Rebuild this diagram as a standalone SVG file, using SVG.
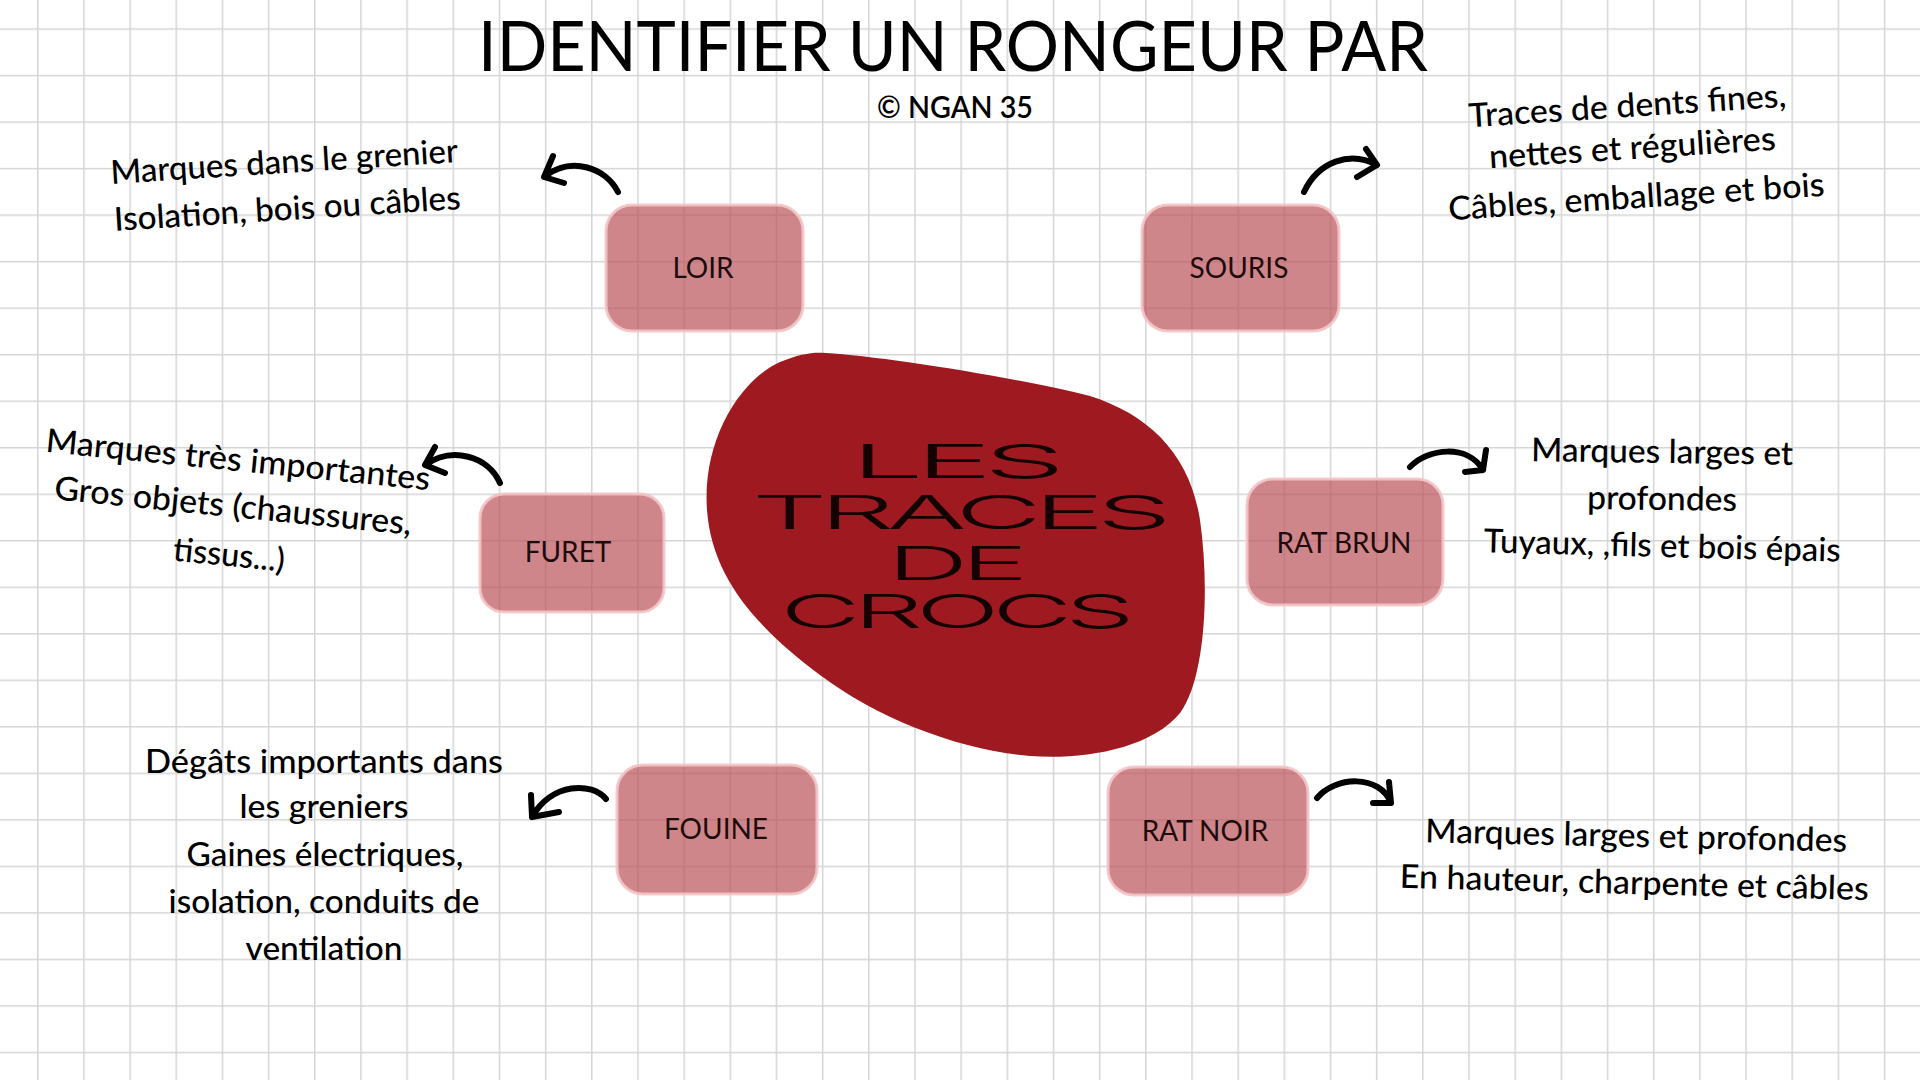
<svg xmlns="http://www.w3.org/2000/svg" width="1920" height="1080" viewBox="0 0 1920 1080">
  <defs>
    <pattern id="grid" x="37" y="28.3" width="46.17" height="46.52" patternUnits="userSpaceOnUse">
      <path d="M0 0.75 H46.17 M0.75 0 V46.52" stroke="#d5d5d5" stroke-width="1.5" fill="none"/>
    </pattern>
    <style>
      .box { fill: #ba5259; fill-opacity: 0.7; stroke: #f3c4c7; stroke-width: 3; stroke-opacity: 0.9; }
      .lbl { font-family: Lato, "Open Sans", sans-serif; font-size: 28px; fill: #1e0c0c; text-anchor: middle; }
      .hand { font-family: Lato, "Noto Sans", sans-serif; font-size: 33px; font-weight: 500; fill: #000; text-anchor: middle; }
      .title { font-family: Lato, "Open Sans", sans-serif; font-size: 70px; fill: #000; text-anchor: middle; }
      .sub { font-family: Lato, "Open Sans", sans-serif; font-size: 30px; font-weight: 600; fill: #000; text-anchor: middle; }
      .core { font-family: Inter, "DejaVu Sans", sans-serif; font-size: 46px; font-weight: 300; letter-spacing: -3px; fill: #140202; text-anchor: middle; }
      .arr { fill: none; stroke: #000; stroke-width: 6; stroke-linecap: round; stroke-linejoin: round; }
    </style>
  </defs>

  <rect width="1920" height="1080" fill="#ffffff"/>
  <rect width="1920" height="1080" fill="url(#grid)"/>

  <g id="title">
    <text class="title" x="953" y="71" textLength="950" lengthAdjust="spacingAndGlyphs">IDENTIFIER UN RONGEUR PAR</text>
    <text class="sub" x="955" y="118" textLength="156" lengthAdjust="spacingAndGlyphs">© NGAN 35</text>
  </g>

  <g id="center">
    <path d="M826 353 C880 356 1020 378 1090 396 C1150 415 1190 455 1200 520 C1210 590 1205 680 1180 713 C1150 750 1080 760 1030 756 C960 750 880 720 820 675 C760 630 712 580 707 510 C702 440 740 380 780 362 C800 354 812 352 826 353 Z" fill="#9e1a20"/>
    <text class="core" x="954" y="478" textLength="206" lengthAdjust="spacingAndGlyphs">LES</text>
    <text class="core" x="958" y="529" textLength="412" lengthAdjust="spacingAndGlyphs">TRACES</text>
    <text class="core" x="954" y="580" textLength="134" lengthAdjust="spacingAndGlyphs">DE</text>
    <text class="core" x="954" y="628" textLength="347" lengthAdjust="spacingAndGlyphs">CROCS</text>
  </g>

  <g id="node-loir">
    <rect class="box" x="606" y="205" width="197" height="126" rx="26"/>
    <text class="lbl" x="703" y="278">LOIR</text>
  </g>
  <g id="node-souris">
    <rect class="box" x="1142" y="205" width="197" height="126" rx="26"/>
    <text class="lbl" x="1239" y="278">SOURIS</text>
  </g>
  <g id="node-furet">
    <rect class="box" x="480" y="494" width="184" height="118" rx="24"/>
    <text class="lbl" x="568" y="562">FURET</text>
  </g>
  <g id="node-ratbrun">
    <rect class="box" x="1247" y="479" width="196" height="126" rx="26"/>
    <text class="lbl" x="1344" y="553">RAT BRUN</text>
  </g>
  <g id="node-fouine">
    <rect class="box" x="617" y="765" width="200" height="129" rx="26"/>
    <text class="lbl" x="716" y="839">FOUINE</text>
  </g>
  <g id="node-ratnoir">
    <rect class="box" x="1108" y="767" width="200" height="128" rx="26"/>
    <text class="lbl" x="1205" y="841">RAT NOIR</text>
  </g>

  <g id="note-loir">
    <text class="hand" x="285" y="173" transform="rotate(-3.6 285 173)" textLength="348" lengthAdjust="spacingAndGlyphs">Marques dans le grenier</text>
    <text class="hand" x="288" y="220" transform="rotate(-3.6 288 220)" textLength="347" lengthAdjust="spacingAndGlyphs">Isolation, bois ou câbles</text>
  </g>
  <g id="note-souris">
    <text class="hand" x="1628" y="117" transform="rotate(-3.7 1628 117)" textLength="318" lengthAdjust="spacingAndGlyphs">Traces de dents fines,</text>
    <text class="hand" x="1633" y="159" transform="rotate(-3.7 1633 159)" textLength="287" lengthAdjust="spacingAndGlyphs">nettes et régulières</text>
    <text class="hand" x="1637" y="208" transform="rotate(-3.7 1637 208)" textLength="377" lengthAdjust="spacingAndGlyphs">Câbles, emballage et bois</text>
  </g>
  <g id="note-furet">
    <text class="hand" x="237" y="471" transform="rotate(5.7 237 471)" textLength="386" lengthAdjust="spacingAndGlyphs">Marques très importantes</text>
    <text class="hand" x="232" y="517" transform="rotate(5.7 232 517)" textLength="359" lengthAdjust="spacingAndGlyphs">Gros objets (chaussures,</text>
    <text class="hand" x="228" y="566" transform="rotate(5.7 228 566)" textLength="112" lengthAdjust="spacingAndGlyphs">tissus...)</text>
  </g>
  <g id="note-ratbrun">
    <text class="hand" x="1662" y="463" transform="rotate(0.8 1662 463)" textLength="262" lengthAdjust="spacingAndGlyphs">Marques larges et</text>
    <text class="hand" x="1662" y="510" transform="rotate(0.8 1662 510)" textLength="150" lengthAdjust="spacingAndGlyphs">profondes</text>
    <text class="hand" x="1662" y="557" transform="rotate(1.5 1662 557)" textLength="357" lengthAdjust="spacingAndGlyphs">Tuyaux, ,fils et bois épais</text>
  </g>
  <g id="note-fouine">
    <text class="hand" x="324" y="773" textLength="358" lengthAdjust="spacingAndGlyphs">Dégâts importants dans</text>
    <text class="hand" x="324" y="818" textLength="169" lengthAdjust="spacingAndGlyphs">les greniers</text>
    <text class="hand" x="325" y="866" textLength="277" lengthAdjust="spacingAndGlyphs">Gaines électriques,</text>
    <text class="hand" x="324" y="913" textLength="311" lengthAdjust="spacingAndGlyphs">isolation, conduits de</text>
    <text class="hand" x="324" y="960" textLength="157" lengthAdjust="spacingAndGlyphs">ventilation</text>
  </g>
  <g id="note-ratnoir">
    <text class="hand" x="1636" y="847" transform="rotate(1.3 1636 847)" textLength="422" lengthAdjust="spacingAndGlyphs">Marques larges et profondes</text>
    <text class="hand" x="1634" y="894" transform="rotate(1.5 1634 894)" textLength="469" lengthAdjust="spacingAndGlyphs">En hauteur, charpente et câbles</text>
  </g>

  <g id="connectors">
    <path class="arr" d="M618 192 C606 168 572 156 545 176 M553 156 L544 177 L564 183"/>
    <path class="arr" d="M1304 192 C1318 162 1350 150 1377 165 M1366 149 L1377 165 L1357 177"/>
    <path class="arr" d="M500 483 C488 456 452 446 425 465 M435 447 L425 465 L445 473"/>
    <path class="arr" d="M1410 467 C1428 448 1468 444 1483 470 M1486 450 L1483 470 L1465 472"/>
    <path class="arr" d="M606 799 C592 782 552 782 532 817 M531 795 L532 817 L559 812"/>
    <path class="arr" d="M1317 798 C1335 776 1380 774 1391 803 M1389 782 L1391 803 L1373 803"/>
  </g>
</svg>
